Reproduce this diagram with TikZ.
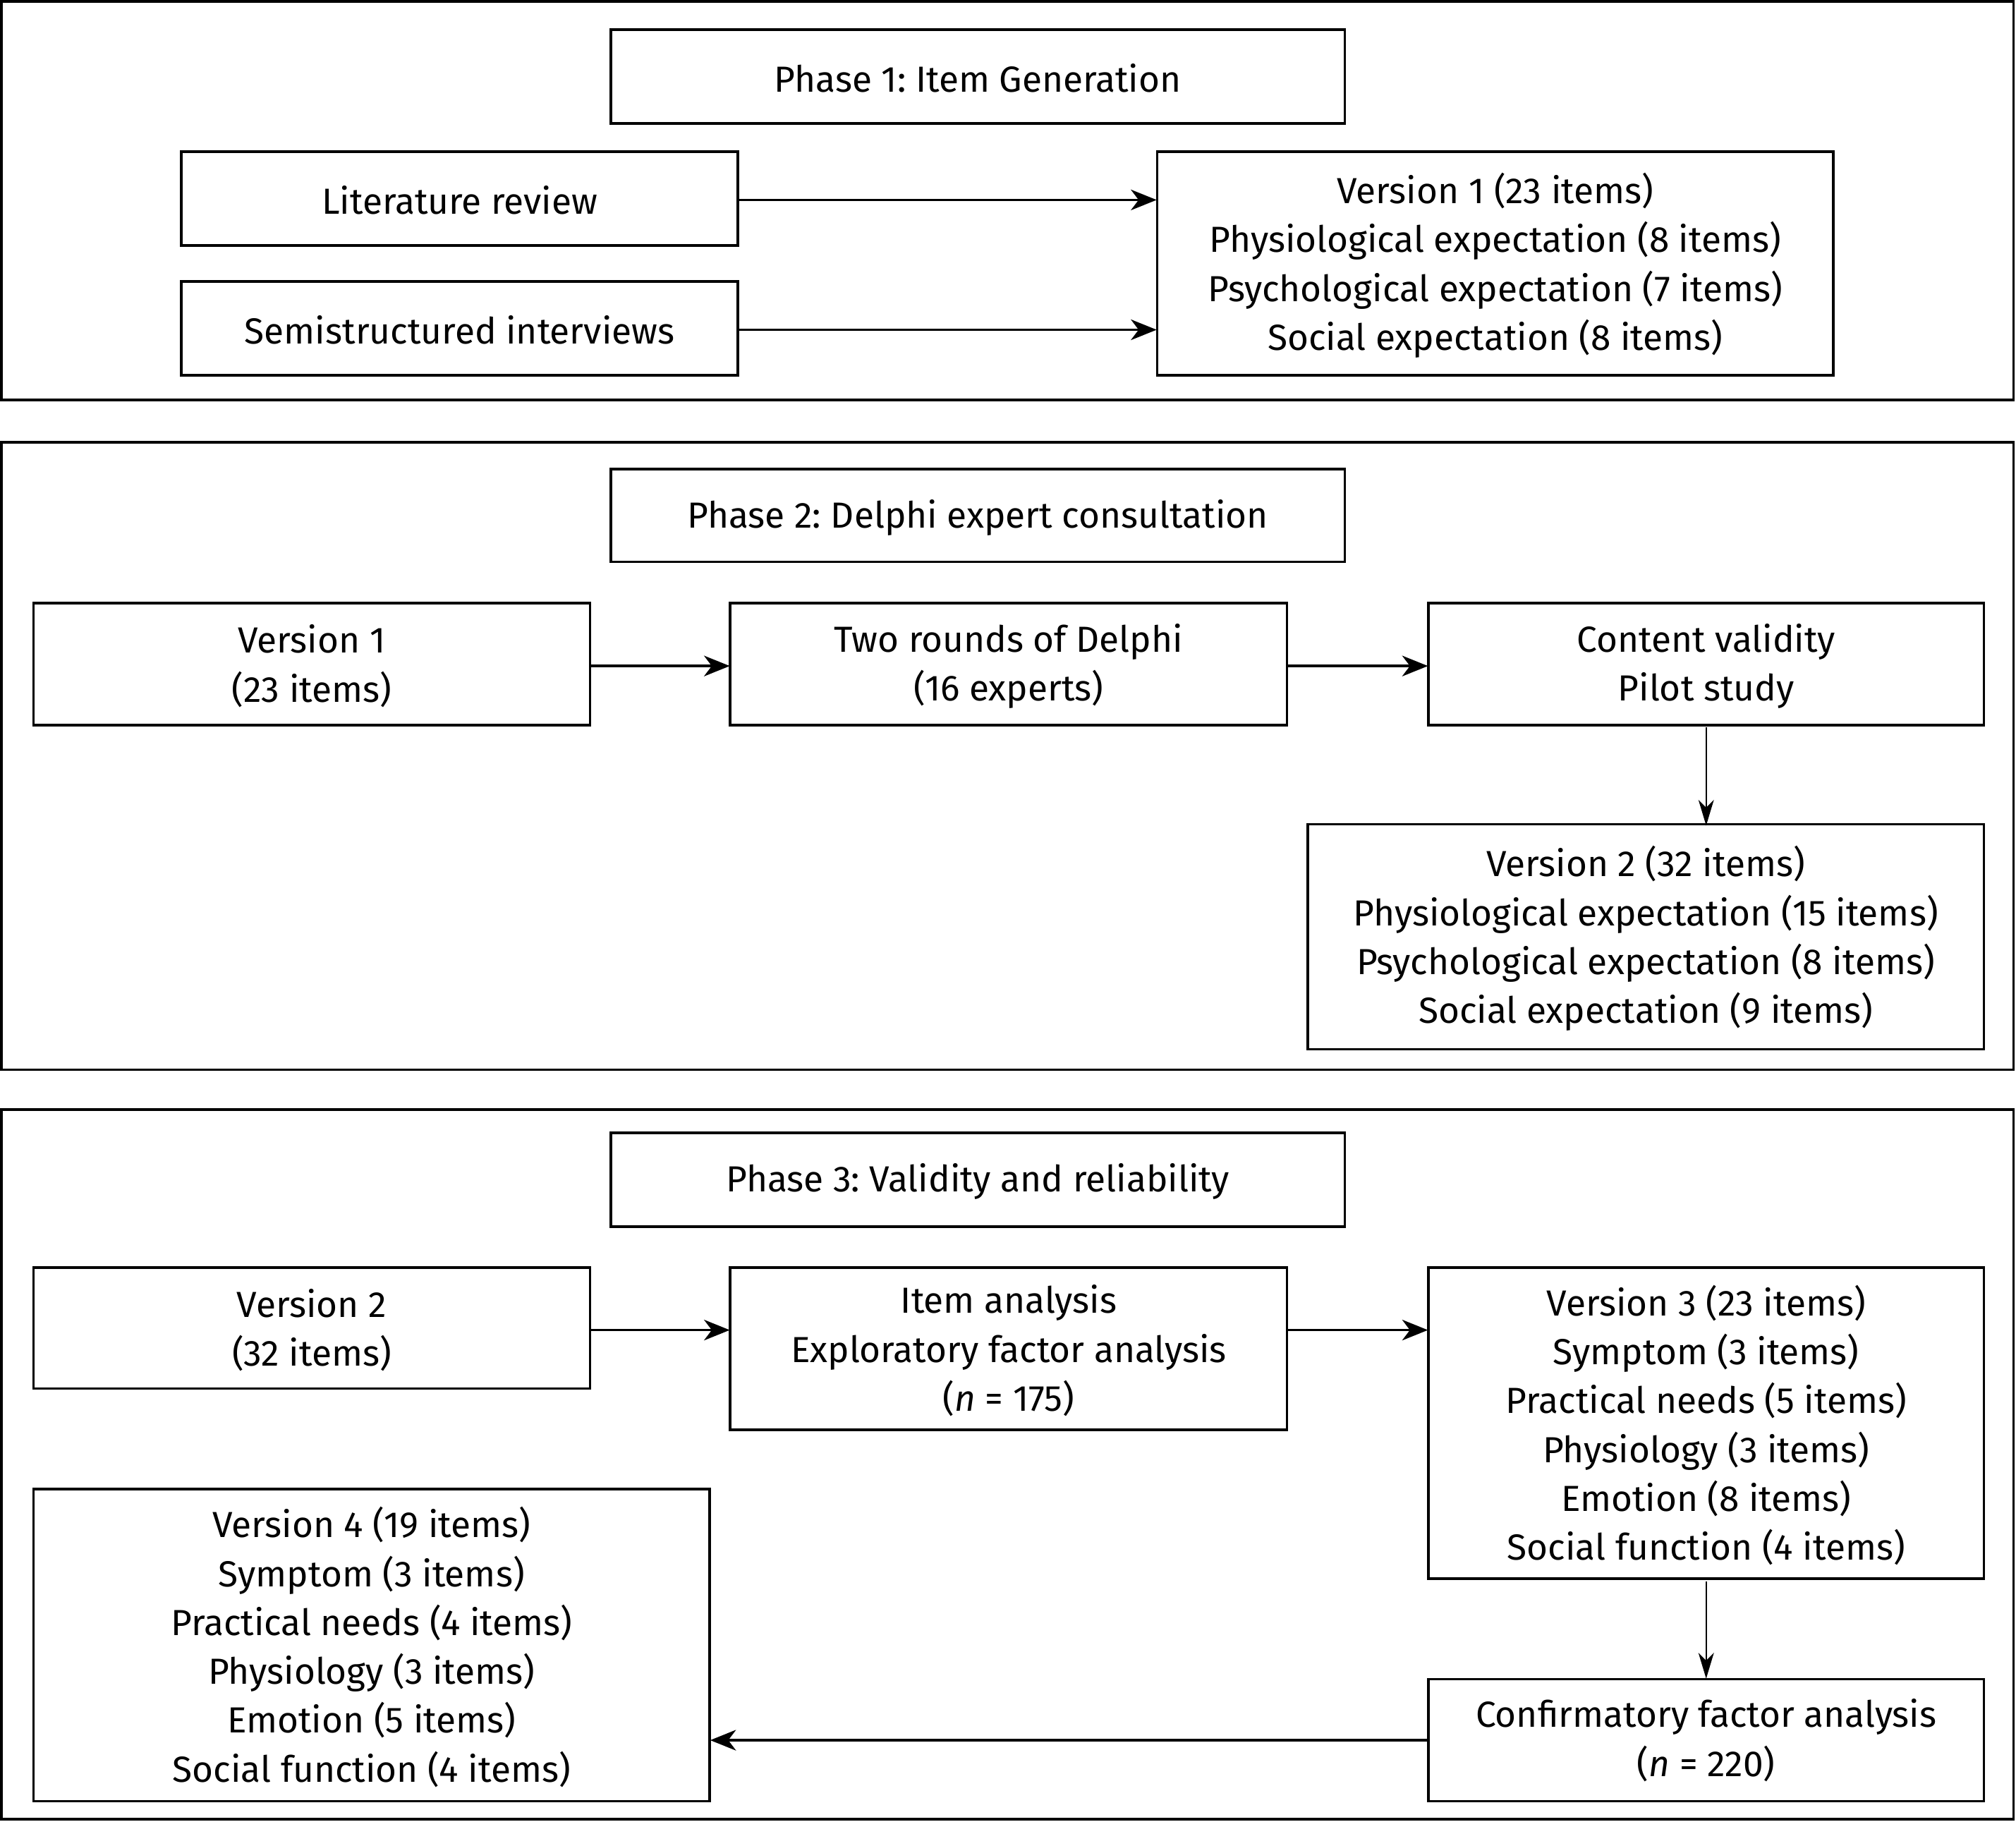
\documentclass[tikz,border=0pt]{standalone}
\usepackage{fontspec}
\setmainfont{Fira Sans}
\frenchspacing
\usetikzlibrary{arrows.meta}
\begin{document}
\begin{tikzpicture}[x=0.5pt,y=-0.5pt,
  box/.style={draw,line width=1pt,inner sep=0pt},
  frame/.style={draw,line width=1pt},
  txt/.style={align=center,font=\fontsize{14.1}{19}\selectfont,inner sep=0pt},
  arr/.style={line width=1pt,-{Stealth[length=10pt,width=8pt,inset=3pt]}},
  varr/.style={line width=0.6pt,-{Stealth[length=10pt,width=6pt,inset=3pt]}}]
\useasboundingbox (0,0) rectangle (1568,1417);
% frames
\draw[frame] (1,1) rectangle (1566,311);
\draw[frame] (1,344) rectangle (1566,832);
\draw[frame] (1,863) rectangle (1566,1415);
% Phase 1
\draw[box] (475,23) rectangle (1046,96);
\node[txt] (t1) at (760.5,61) {Phase 1: Item Generation};
\draw[box] (141,118) rectangle (574,191);
\node[txt,minimum width=216.5pt,minimum height=36.5pt] (lit) at (357.5,155.5) {Literature review};
\draw[box] (141,219) rectangle (574,292);
\node[txt,minimum width=216.5pt,minimum height=36.5pt] (semi) at (357.5,256.5) {Semistructured interviews};
\draw[box] (900,118) rectangle (1426,292);
\node[txt,minimum width=263pt,minimum height=87pt] (v1) at (1163,206.5) {Version 1 (23 items)\\Physiological expectation (8 items)\\Psychological expectation (7 items)\\Social expectation (8 items)};
\draw[arr] (lit.east) -- (lit.east -| v1.west);
\draw[arr] (semi.east) -- (semi.east -| v1.west);
% Phase 2
\draw[box] (475,365) rectangle (1046,437);
\node[txt] (t2) at (760.5,402.5) {Phase 2: Delphi expert consultation};
\draw[box] (26,469) rectangle (459,564);
\node[txt,minimum width=216.5pt,minimum height=47.5pt] (p2v1) at (242.5,518) {Version 1\\(23 items)};
\draw[box] (568,469) rectangle (1001,564);
\node[txt,minimum width=216.5pt,minimum height=47.5pt] (delphi) at (784.5,518) {Two rounds of Delphi\\(16 experts)};
\draw[box] (1111,469) rectangle (1543,564);
\node[txt,minimum width=216pt,minimum height=47.5pt] (cv) at (1327,518) {Content validity\\Pilot study};
\draw[box] (1017,641) rectangle (1543,816);
\node[txt,minimum width=263pt,minimum height=87.5pt] (v2) at (1280,730) {Version 2 (32 items)\\Physiological expectation (15 items)\\Psychological expectation (8 items)\\Social expectation (9 items)};
\draw[arr] (p2v1.east) -- (p2v1.east -| delphi.west);
\draw[arr] (delphi.east) -- (delphi.east -| cv.west);
\draw[varr] (cv.south) -- (cv.south |- v2.north);
% Phase 3
\draw[box] (475,881) rectangle (1046,954);
\node[txt] (t3) at (760.5,919) {Phase 3: Validity and reliability};
\draw[box] (26,986) rectangle (459,1080);
\node[txt,minimum width=216.5pt,minimum height=47pt] (p3v2) at (242.5,1034.5) {Version 2\\(32 items)};
\draw[box] (568,986) rectangle (1001,1112);
\node[txt,minimum width=216.5pt,minimum height=63pt] (ia) at (784.5,1050.5) {Item analysis\\Exploratory factor analysis\\(\textit{n} = 175)};
\draw[box] (1111,986) rectangle (1543,1228);
\node[txt,minimum width=216pt,minimum height=121pt] (v3) at (1327,1108.5) {Version 3 (23 items)\\Symptom (3 items)\\Practical needs (5 items)\\Physiology (3 items)\\Emotion (8 items)\\Social function (4 items)};
\draw[box] (26,1158) rectangle (552,1401);
\node[txt,minimum width=263pt,minimum height=121.5pt] (v4) at (289,1281) {Version 4 (19 items)\\Symptom (3 items)\\Practical needs (4 items)\\Physiology (3 items)\\Emotion (5 items)\\Social function (4 items)};
\draw[box] (1111,1306) rectangle (1543,1401);
\node[txt,minimum width=216pt,minimum height=47.5pt] (cfa) at (1327,1353.5) {Confirmatory factor analysis\\(\textit{n} = 220)};
\draw[arr] (p3v2.east) -- (p3v2.east -| ia.west);
\draw[arr] (ia.east |- p3v2.east) -- (v3.west |- p3v2.east);
\draw[varr] (v3.south) -- (v3.south |- cfa.north);
\draw[arr] (cfa.west) -- (cfa.west -| v4.east);
\end{tikzpicture}
\end{document}
